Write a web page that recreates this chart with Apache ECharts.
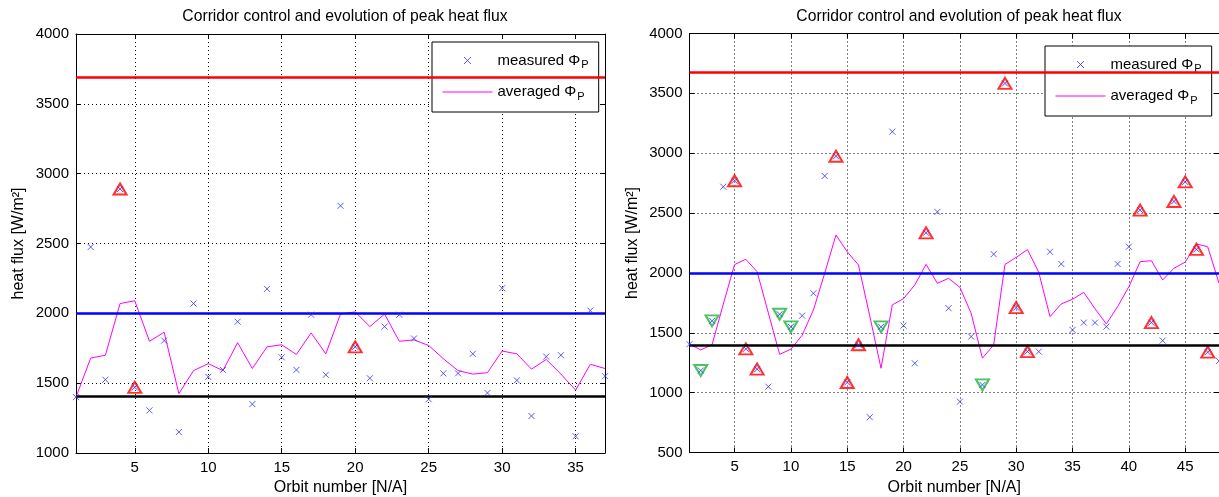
<!DOCTYPE html>
<html><head><meta charset="utf-8">
<script src="https://cdn.jsdelivr.net/npm/echarts@6/dist/echarts.min.js"></script>
<style>html,body{margin:0;padding:0;background:#fff}#c{width:1219px;height:497px}</style>
</head><body><div id="c"></div>
<script>
// ---------- text ----------
const chartTitle = 'Corridor control and evolution of peak heat flux';
const xAxisName = 'Orbit number [N/A]';
const yAxisName = 'heat flux [W/m²]';
const seriesNames = ['measured', 'averaged'];

// ---------- left chart data ----------
const leftOrbit = [1,2,3,4,5,6,7,8,9,10,11,12,13,14,15,16,17,18,19,20,21,22,23,24,25,26,27,28,29,30,31,32,33,34,35,36,37];
const leftMeasured = [1400,2475,1525,2890,1470,1305,1805,1150,2070,1545,1595,1940,1350,2175,1685,1595,1990,1560,2770,1760,1535,1905,1990,1820,1385,1570,1570,1710,1430,2180,1520,1265,1690,1700,1120,2020,1550];
const leftAveraged = [1400,1680,1700,2070,2090,1800,1865,1425,1590,1640,1590,1790,1605,1760,1775,1705,1860,1710,1995,2010,1905,1995,1800,1810,1770,1675,1590,1565,1575,1730,1710,1600,1670,1565,1450,1635,1605];
const leftUpOrbits = [4,5,20];
const leftDownOrbits = [];
const leftLimits = [3690, 2000, 1405];   // upper, target, lower
const leftXTicks = [5,10,15,20,25,30,35];
const leftYRange = [1000, 4000];

// ---------- right chart data ----------
const rightOrbit = [1,2,3,4,5,6,7,8,9,10,11,12,13,14,15,16,17,18,19,20,21,22,23,24,25,26,27,28,29,30,31,32,33,34,35,36,37,38,39,40,41,42,43,44,45,46,47,48];
const rightMeasured = [1405,1185,1600,2720,2770,1365,1196,1050,1655,1550,1643,1830,2810,2975,1085,1400,795,1550,3180,1560,1245,2335,2510,1705,925,1468,1065,2157,3583,1710,1343,1343,2177,2075,1524,1585,1585,1551,2075,2219,2525,1585,1435,2597,2760,2197,1338,1265];
const rightAveraged = [1405,1357,1400,1740,2070,2114,2010,1665,1320,1363,1480,1691,1997,2317,2177,2066,1640,1204,1733,1785,1900,2072,1914,1955,1880,1663,1288,1399,2070,2130,2195,2005,1635,1741,1780,1838,1700,1574,1718,1885,2094,2102,1941,2039,2090,2242,2219,1914];
const rightUpOrbits = [5,6,7,14,15,16,22,29,30,31,41,42,44,45,46,47];
const rightDownOrbits = [2,3,9,10,18,27];
const rightLimits = [3680, 2000, 1400];
const rightXTicks = [5,10,15,20,25,30,35,40,45];
const rightYRange = [500, 4000];

// ---------- styling ----------
const FONT = '"Liberation Sans", Arial, sans-serif';
const crossPath = 'path://M0,0L10,10M10,0L0,10';
const downTriPath = 'path://M0,0L10,0L5,9Z';
const limitColors = ['#ff0000', '#0000ff', '#000000'];
const measuredColor = '#3030ff';

const grids = [
  {left: 76, top: 34, width: 529, height: 419, outerBoundsMode: 'none', containLabel: false},
  {left: 689.5, top: 33.5, width: 529.5, height: 419, outerBoundsMode: 'none', containLabel: false}
];

function xAxes(gi, xmax, ticks) {
  return [
    {gridIndex: gi, type: 'value', min: 1, max: xmax, position: 'bottom',
     name: xAxisName, nameLocation: 'middle', nameGap: 26,
     nameTextStyle: {fontFamily: FONT, fontSize: 16, color: '#000'},
     axisLine: {show: true, onZero: false, lineStyle: {color: '#000', width: 1}},
     axisTick: {show: true, inside: true, length: 5, customValues: ticks, lineStyle: {color: '#000'}},
     axisLabel: {customValues: ticks, fontFamily: FONT, fontSize: 15, color: '#000', margin: 7},
     splitLine: {show: true, lineStyle: {color: '#000', type: [1, 3], width: 1}}},
    {gridIndex: gi, type: 'value', min: 1, max: xmax, position: 'top',
     axisLine: {show: true, onZero: false, lineStyle: {color: '#000', width: 1}},
     axisTick: {show: true, inside: true, length: 5, customValues: ticks, lineStyle: {color: '#000'}},
     axisLabel: {show: false}, splitLine: {show: false}}
  ];
}
function yAxes(gi, range) {
  return [
    {gridIndex: gi, type: 'value', min: range[0], max: range[1], interval: 500, position: 'left',
     name: yAxisName, nameLocation: 'middle', nameGap: 49,
     nameTextStyle: {fontFamily: FONT, fontSize: 16, color: '#000'},
     axisLine: {show: true, onZero: false, lineStyle: {color: '#000', width: 1}},
     axisTick: {show: true, inside: true, length: 5, lineStyle: {color: '#000'}},
     axisLabel: {fontFamily: FONT, fontSize: 15, color: '#000', margin: 7, formatter: v => String(v)},
     splitLine: {show: true, lineStyle: {color: '#000', type: [1, 3], width: 1}}},
    {gridIndex: gi, type: 'value', min: range[0], max: range[1], interval: 500, position: 'right',
     axisLine: {show: true, onZero: false, lineStyle: {color: '#000', width: 1}},
     axisTick: {show: true, inside: true, length: 5, lineStyle: {color: '#000'}},
     axisLabel: {show: false}, splitLine: {show: false}}
  ];
}

function chartSeries(ai, orbit, measured, averaged, up, down, limits) {
  const list = [];
  list.push({
    name: seriesNames[1], type: 'line', xAxisIndex: ai, yAxisIndex: ai,
    data: orbit.map((o, i) => [o, averaged[i]]),
    symbol: 'none', showSymbol: false,
    lineStyle: {color: '#ff00ff', width: 1}, itemStyle: {color: '#ff00ff'},
    z: 3,
    markLine: {
      silent: true, symbol: 'none', label: {show: false}, animation: false,
      data: limits.map((v, k) => ({yAxis: v, lineStyle: {color: limitColors[k], width: 2.5, type: 'solid'}}))
    }
  });
  list.push({
    name: 'up', type: 'scatter', xAxisIndex: ai, yAxisIndex: ai,
    data: up.map(o => [o, measured[o - 1]]),
    symbol: 'triangle', symbolSize: [13, 11],
    itemStyle: {color: 'rgba(255,200,200,0.35)', borderColor: '#ff0000', borderWidth: 2},
    z: 4
  });
  if (down.length) list.push({
    name: 'down', type: 'scatter', xAxisIndex: ai, yAxisIndex: ai,
    data: down.map(o => [o, measured[o - 1]]),
    symbol: downTriPath, symbolSize: [13, 11],
    itemStyle: {color: 'rgba(200,255,200,0.35)', borderColor: '#22b040', borderWidth: 2},
    z: 4
  });
  list.push({
    name: seriesNames[0], type: 'scatter', xAxisIndex: ai, yAxisIndex: ai,
    data: orbit.map((o, i) => [o, measured[i]]),
    symbol: crossPath, symbolSize: 6,
    itemStyle: {color: measuredColor, borderColor: measuredColor, borderWidth: 1},
    z: 5
  });
  return list;
}

function legend(left, top) {
  return {
    left: left, top: top, orient: 'vertical',
    data: [
      {name: seriesNames[0], icon: crossPath, itemStyle: {color: measuredColor, borderColor: measuredColor, borderWidth: 1}},
      {name: seriesNames[1], icon: 'line', itemStyle: {color: '#ff00ff', borderColor: '#ff00ff', borderWidth: 1}}
    ],
    itemWidth: 50, itemHeight: 7, itemGap: 14,
    padding: [11, 10, 10, 10],
    backgroundColor: '#fff', borderColor: '#000', borderWidth: 1, borderRadius: 0,
    selectedMode: false,
    formatter: n => '{t|' + n + ' Φ}{s|P}',
    textStyle: {
      fontFamily: FONT, fontSize: 15, color: '#000',
      rich: {
        t: {fontFamily: FONT, fontSize: 15, color: '#000'},
        s: {fontFamily: FONT, fontSize: 11, color: '#000', padding: [9, 0, 0, 1]}
      }
    }
  };
}

const option = {
  animation: false,
  backgroundColor: '#fff',
  title: [
    {text: chartTitle, left: 340, top: 4, textAlign: 'center',
     textStyle: {fontFamily: FONT, fontSize: 15.7, fontWeight: 'normal', color: '#000'}},
    {text: chartTitle, left: 954, top: 4, textAlign: 'center',
     textStyle: {fontFamily: FONT, fontSize: 15.7, fontWeight: 'normal', color: '#000'}}
  ],
  legend: [legend(432, 42), legend(1045, 46)],
  grid: grids,
  xAxis: xAxes(0, 37, leftXTicks).concat(xAxes(1, 48, rightXTicks)),
  yAxis: yAxes(0, leftYRange).concat(yAxes(1, rightYRange)),
  series: chartSeries(0, leftOrbit, leftMeasured, leftAveraged, leftUpOrbits, leftDownOrbits, leftLimits)
    .concat(chartSeries(2, rightOrbit, rightMeasured, rightAveraged, rightUpOrbits, rightDownOrbits, rightLimits))
};

const chart = echarts.init(document.getElementById('c'), null, {renderer: 'canvas'});
chart.setOption(option);
</script>
</body></html>
